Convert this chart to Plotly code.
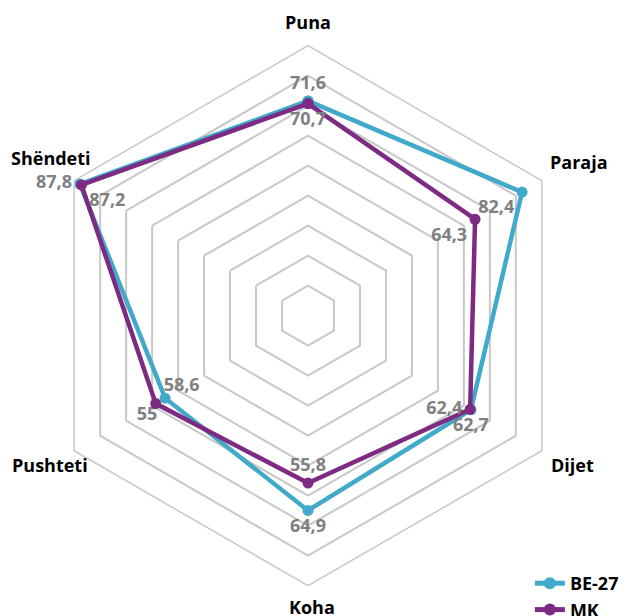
import math
import plotly.graph_objects as go

categories = ["Puna", "Paraja", "Dijet", "Koha", "Pushteti", "Shëndeti"]
be27_values = [71.6, 82.4, 62.7, 64.9, 55.0, 87.8]
mk_values = [70.7, 64.3, 62.4, 55.8, 58.6, 87.2]
series_names = ["BE-27", "MK"]

# label placement (style)
be27_textpos = ["top center", "bottom left", "bottom center", "bottom center", "bottom left", "middle left"]
mk_textpos = ["bottom center", "bottom left", "middle left", "top center", "top right", "bottom right"]
category_label_radius = [98, 104, 101, 97, 99.4, 99.6]
category_label_shift = [(0, 0), (1, -2), (2, 2), (4, 0), (0, 0), (2, 8)]

colors = ["#41A9C9", "#7D2A82"]

R_MAX = 90
# page body has an 8px margin; figure is sized/offset to compensate
W, H = 625, 620
cx, cy, R = 300.0, 307.7, 270.0


def fmt(v):
    s = f"{v:.1f}"
    if s.endswith(".0"):
        s = s[:-2]
    return s.replace(".", ",")


def closed(lst):
    return list(lst) + [lst[0]]


fig = go.Figure()
for name, vals, pos, col in [
    (series_names[0], be27_values, be27_textpos, colors[0]),
    (series_names[1], mk_values, mk_textpos, colors[1]),
]:
    fig.add_trace(go.Scatterpolar(
        r=closed(vals),
        theta=closed(categories),
        name=name,
        mode="lines+markers+text",
        line=dict(color=col, width=4.5),
        marker=dict(color=col, size=11),
        text=[fmt(v) for v in vals] + [""],
        textposition=pos + ["top center"],
        textfont=dict(family="Open Sans", size=18, color="#808080", weight="bold"),
        cliponaxis=False,
    ))

# category labels: placed on the same polar geometry (clockwise, rotation 90)
annotations = []
n = len(categories)
for i, (cat, lr, sh) in enumerate(zip(categories, category_label_radius, category_label_shift)):
    a = math.radians(90 - i * 360 / n)
    rpx = lr / R_MAX * R
    px = cx + rpx * math.cos(a)
    py = cy - rpx * math.sin(a)
    annotations.append(dict(
        x=px / W, y=1 - py / H, xref="paper", yref="paper",
        xshift=sh[0], yshift=sh[1],
        text=cat, showarrow=False, xanchor="center", yanchor="middle",
        font=dict(family="Open Sans", size=18, color="black", weight="bold"),
    ))

fig.update_layout(
    width=W,
    height=H,
    margin=dict(l=0, r=0, t=0, b=0),
    paper_bgcolor="white",
    plot_bgcolor="white",
    font=dict(family="Open Sans", color="black"),
    annotations=annotations,
    polar=dict(
        domain=dict(x=[(cx - R) / W, (cx + R) / W],
                    y=[(H - cy - R) / H, (H - cy + R) / H]),
        bgcolor="white",
        gridshape="linear",
        radialaxis=dict(
            range=[0, R_MAX],
            dtick=10,
            tick0=0,
            showticklabels=False,
            showline=False,
            ticks="",
            gridcolor="#C8C8C8",
            gridwidth=1.5,
        ),
        angularaxis=dict(
            direction="clockwise",
            rotation=90,
            showgrid=False,
            showline=True,
            linecolor="#C8C8C8",
            linewidth=1.5,
            ticks="",
            showticklabels=False,
        ),
    ),
    showlegend=True,
    legend=dict(
        x=0.835, y=0.0, xanchor="left", yanchor="bottom",
        font=dict(family="Open Sans", size=18, color="black", weight="bold"),
        bgcolor="rgba(0,0,0,0)",
        tracegroupgap=0,
        itemsizing="constant",
    ),
)

fig.write_html("out.html")
